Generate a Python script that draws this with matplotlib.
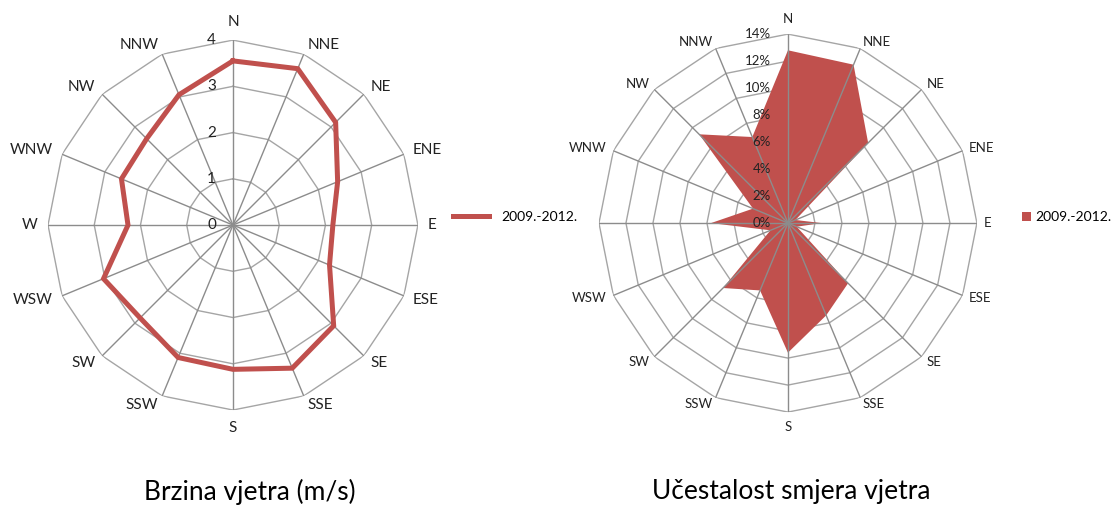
import numpy as np
import matplotlib
matplotlib.use('Agg')
import matplotlib.pyplot as plt
from matplotlib.patches import Patch
from matplotlib.lines import Line2D

plt.rcParams['font.family'] = ['Lato', 'DejaVu Sans']

directions = ['N', 'NNE', 'NE', 'ENE', 'E', 'ESE', 'SE', 'SSE',
              'S', 'SSW', 'SW', 'WSW', 'W', 'WNW', 'NW', 'NNW']
speed = [3.55, 3.66, 3.14, 2.45, 2.16, 2.26, 3.08, 3.35,
         3.12, 3.10, 2.84, 3.03, 2.27, 2.61, 2.64, 3.05]
frequency = [12.8, 12.7, 8.4, 0.6, 2.5, 0.7, 6.3, 7.4,
             9.6, 5.4, 6.8, 1.4, 5.7, 2.8, 9.3, 6.9]
speed_rings = [0, 1, 2, 3, 4]
speed_labels = ['0', '1', '2', '3', '4']
freq_rings = [0, 2, 4, 6, 8, 10, 12, 14]
freq_labels = ['0%', '2%', '4%', '6%', '8%', '10%', '12%', '14%']
series_name = '2009.-2012.'

red = '#C0504D'
ring_col = '#A5A5A5'
spoke_col = '#8C8C8C'
text_col = '#222222'

theta = np.linspace(0, 2 * np.pi, len(directions), endpoint=False)
closed = np.append(theta, theta[0])


def radar_axes(fig, rect, rings, labels, label_size, gap, skip=()):
    ax = fig.add_axes(rect, projection='polar')
    ax.set_theta_zero_location('N')
    ax.set_theta_direction(-1)
    ax.grid(False)
    ax.spines['polar'].set_visible(False)
    ax.set_ylim(0, rings[-1])
    ax.set_yticks([])
    ax.set_xticks([])
    for r in rings[1:]:
        ax.plot(closed, [r] * len(closed), color=ring_col, lw=1, zorder=1)
    for t in theta:
        ax.plot([t, t], [0, rings[-1]], color=spoke_col, lw=1, zorder=3)
    # category labels, anchored outside each outer vertex like Excel does
    for t, name in zip(theta, directions):
        if name in skip:
            continue
        s, c = np.sin(t), np.cos(t)
        if abs(s) < 0.01:
            ha, off = 'center', gap + 8
        else:
            ha, off = ('left' if s > 0 else 'right'), gap
        ax.annotate(name, xy=(t, rings[-1]), xytext=(off * s, off * c),
                    textcoords='offset pixels', ha=ha, va='center',
                    fontsize=label_size, color=text_col, annotation_clip=False)
    for r, lab in zip(rings, labels):
        ax.annotate(lab, xy=(0, r), xytext=(-17, 0), textcoords='offset pixels',
                    ha='right', va='center', fontsize=label_size, color=text_col,
                    zorder=5)
    return ax


fig = plt.figure(figsize=(11.16, 5.05), dpi=100)

# wind speed
ax1 = radar_axes(fig, [0.043, 0.188, 0.3315, 0.7327], speed_rings, speed_labels, 11, 10)
ax1.plot(closed, speed + speed[:1], color=red, lw=3.6, zorder=4, solid_joinstyle='miter')
ax1.legend(handles=[Line2D([], [], color=red, lw=3.6)], labels=[series_name],
           loc='center left', bbox_to_anchor=(0.406, 0.570), bbox_transform=fig.transFigure,
           frameon=False, fontsize=10, handlelength=2.6, handletextpad=0.9,
           borderpad=0, borderaxespad=0)

# wind direction frequency (the W label is hidden in the original)
ax2 = radar_axes(fig, [0.5367, 0.184, 0.3387, 0.7485], freq_rings, freq_labels, 9.5, 7,
                 skip=('W',))
ax2.fill(closed, frequency + frequency[:1], color=red, lw=0, zorder=2)
ax2.legend(handles=[Patch(facecolor=red)], labels=[series_name],
           loc='center left', bbox_to_anchor=(0.9155, 0.570), bbox_transform=fig.transFigure,
           frameon=False, fontsize=10, handlelength=0.65, handleheight=0.65, handletextpad=0.3,
           borderpad=0, borderaxespad=0)

fig.text(0.224, 0.026, 'Brzina vjetra (m/s)', ha='center', va='center', fontsize=19)
fig.text(0.709, 0.026, 'Učestalost smjera vjetra', ha='center', va='center', fontsize=19)

fig.savefig('out.png', dpi=100, facecolor='white')
